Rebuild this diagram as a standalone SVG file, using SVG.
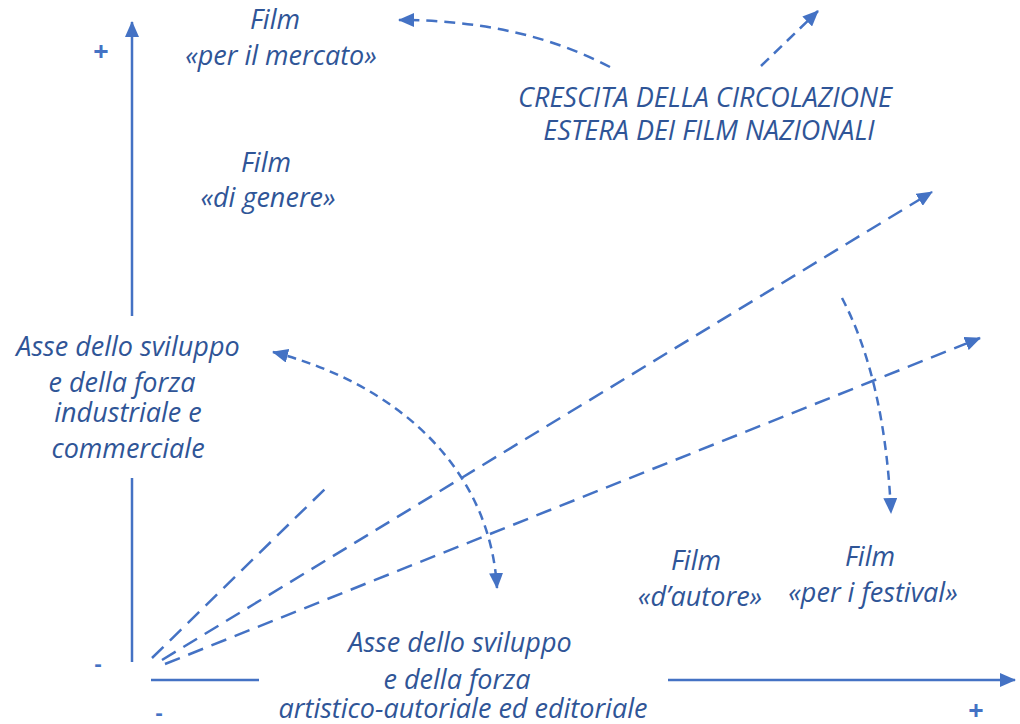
<svg xmlns="http://www.w3.org/2000/svg" width="1020" height="724" viewBox="0 0 1020 724">
<style>
.t{font-family:"Open Sans","Noto Sans","Liberation Sans",sans-serif;font-style:italic;font-size:27px;fill:#2F5597;text-anchor:middle}
.s{font-family:"Open Sans","Liberation Sans",sans-serif;font-size:22px;fill:#4472C4;text-anchor:middle;font-weight:bold}
.p{font-family:"Open Sans","Liberation Sans",sans-serif;font-size:27px;fill:#4472C4;text-anchor:middle;font-weight:bold}
.ax{stroke:#4472C4;stroke-width:2.5;fill:none}
.dl{stroke:#4472C4;stroke-width:2.5;fill:none;stroke-dasharray:16 9}
.dc{stroke:#4472C4;stroke-width:2.5;fill:none;stroke-dasharray:9 6}
.dm{stroke:#4472C4;stroke-width:2.5;fill:none;stroke-dasharray:11 7}
</style>
<defs>
<marker id="ah" markerUnits="userSpaceOnUse" markerWidth="16" markerHeight="14" refX="15" refY="7" orient="auto-start-reverse">
<path d="M0,0 L16,7 L0,14 Z" fill="#4472C4"/>
</marker>
</defs>
<rect width="1020" height="724" fill="#fff"/>
<g id="axes">
<line class="ax" x1="132" y1="316" x2="132" y2="22" marker-end="url(#ah)"/>
<line class="ax" x1="132" y1="478" x2="132" y2="662"/>
<line class="ax" x1="151" y1="680" x2="259" y2="680"/>
<line class="ax" x1="668" y1="680" x2="1015" y2="680" marker-end="url(#ah)"/>
<text class="p" x="101" y="61">+</text>
<text class="s" x="98" y="671">-</text>
<text class="s" x="159" y="720">-</text>
<text class="p" x="976" y="720">+</text>
</g>
<g id="connectors">
<path class="dm" d="M610,67 Q520,20 399,20" marker-end="url(#ah)"/>
<path class="dm" d="M761,66 L818,11" marker-end="url(#ah)"/>
<path class="dl" d="M152,658 L327,487"/>
<path class="dl" d="M162,660 L932,192" marker-end="url(#ah)"/>
<path class="dl" d="M165,664 L980,338" marker-end="url(#ah)"/>
<path class="dc" d="M273,352 C400,385 490,470 497,588" marker-start="url(#ah)" marker-end="url(#ah)"/>
<path class="dc" d="M842,298 Q885,380 891,513" marker-end="url(#ah)"/>
</g>
<g id="film-mercato"><text class="t"><tspan x="275" y="29">Film</tspan><tspan x="281" y="65">«per il mercato»</tspan></text></g>
<g id="film-genere"><text class="t"><tspan x="266" y="172">Film</tspan><tspan x="268" y="207">«di genere»</tspan></text></g>
<g id="crescita"><text class="t"><tspan x="705" y="107">CRESCITA DELLA CIRCOLAZIONE</tspan><tspan x="709" y="140">ESTERA DEI FILM NAZIONALI</tspan></text></g>
<g id="asse-industriale"><text class="t"><tspan x="128" y="356">Asse dello sviluppo</tspan><tspan x="122" y="392">e della forza</tspan><tspan x="128" y="422">industriale e</tspan><tspan x="128" y="458">commerciale</tspan></text></g>
<g id="asse-artistico"><text class="t"><tspan x="460" y="652">Asse dello sviluppo</tspan><tspan x="457" y="689">e della forza</tspan><tspan x="463" y="718">artistico-autoriale ed editoriale</tspan></text></g>
<g id="film-autore"><text class="t"><tspan x="696" y="570">Film</tspan><tspan x="700" y="606">«d’autore»</tspan></text></g>
<g id="film-festival"><text class="t"><tspan x="870" y="566">Film</tspan><tspan x="873" y="602">«per i festival»</tspan></text></g>
</svg>
